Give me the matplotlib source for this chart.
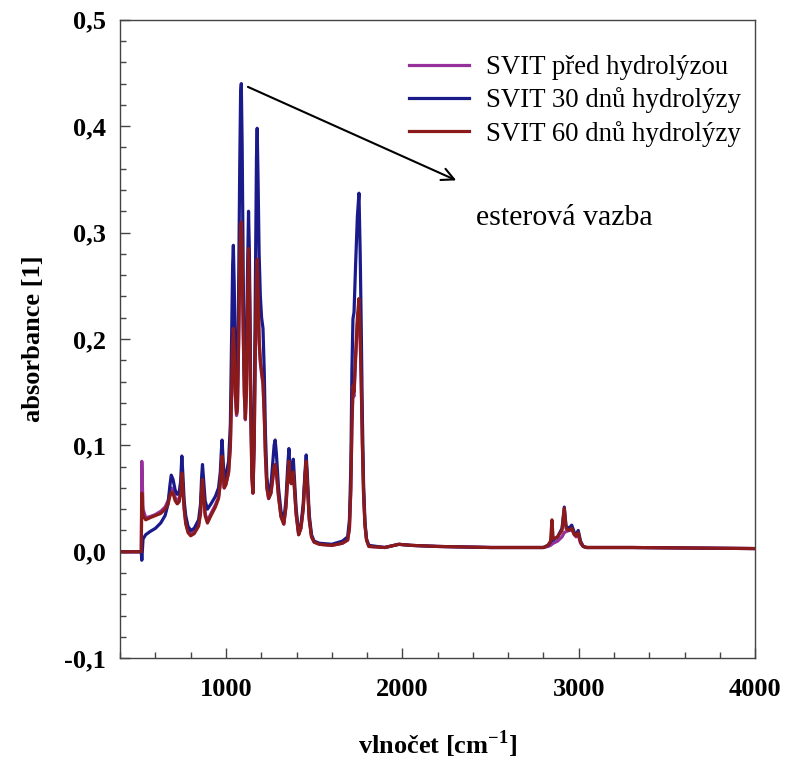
import matplotlib
matplotlib.use("Agg")
import matplotlib.pyplot as plt
from matplotlib.ticker import MultipleLocator, FuncFormatter

plt.rcParams['font.family'] = ['Liberation Serif', 'DejaVu Serif']
plt.rcParams['mathtext.fontset'] = 'custom'
plt.rcParams['mathtext.rm'] = 'Liberation Serif:bold'
plt.rcParams['mathtext.bf'] = 'Liberation Serif:bold'

# wavenumber [cm-1] and absorbance
wn = [400, 520, 523, 530, 545, 570, 600, 630, 655, 672,
      682, 690, 700, 712, 724, 735, 743, 750, 756, 763,
      772, 785, 800, 820, 845, 856, 862, 867, 873, 882,
      895, 915, 940, 958, 968, 974, 978, 983, 990, 1000,
      1015, 1025, 1032, 1038, 1042, 1047, 1053, 1060, 1065, 1072,
      1078, 1083, 1087, 1092, 1098, 1104, 1110, 1116, 1122, 1128,
      1133, 1140, 1147, 1153, 1160, 1167, 1173, 1177, 1182, 1188,
      1195, 1202, 1210, 1217, 1224, 1232, 1242, 1255, 1266, 1273,
      1279, 1286, 1298, 1312, 1328, 1340, 1350, 1357, 1363, 1370,
      1376, 1382, 1388, 1398, 1412, 1425, 1438, 1448, 1455, 1462,
      1472, 1485, 1500, 1530, 1600, 1660, 1690, 1700, 1708, 1714,
      1720, 1726, 1735, 1745, 1754, 1761, 1767, 1773, 1780, 1788,
      1797, 1810, 1900, 1980, 2050, 2200, 2500, 2800, 2825, 2840,
      2848, 2855, 2880, 2905, 2918, 2928, 2945, 2960, 2975, 2985,
      2997, 3010, 3025, 3045, 3300, 4000]

svit_0 = [0, 0, 0.085, 0.040, 0.032, 0.033, 0.035, 0.038, 0.042, 0.048,
          0.056, 0.060, 0.058, 0.051, 0.048, 0.050, 0.058, 0.074, 0.060, 0.042,
          0.028, 0.020, 0.017, 0.019, 0.026, 0.037, 0.058, 0.066, 0.055, 0.036,
          0.029, 0.036, 0.044, 0.051, 0.064, 0.080, 0.088, 0.077, 0.060, 0.064,
          0.074, 0.098, 0.145, 0.188, 0.203, 0.185, 0.147, 0.128, 0.133, 0.195,
          0.262, 0.298, 0.303, 0.275, 0.205, 0.148, 0.124, 0.148, 0.225, 0.278,
          0.245, 0.138, 0.069, 0.055, 0.098, 0.195, 0.253, 0.268, 0.244, 0.196,
          0.177, 0.167, 0.157, 0.128, 0.089, 0.060, 0.050, 0.055, 0.069, 0.079,
          0.081, 0.074, 0.052, 0.033, 0.026, 0.042, 0.069, 0.084, 0.068, 0.064,
          0.069, 0.074, 0.060, 0.035, 0.016, 0.022, 0.040, 0.069, 0.084, 0.062,
          0.031, 0.014, 0.009, 0.007, 0.006, 0.008, 0.011, 0.022, 0.058, 0.116,
          0.150, 0.146, 0.180, 0.214, 0.230, 0.200, 0.156, 0.102, 0.054, 0.025,
          0.011, 0.005, 0.004, 0.007, 0.006, 0.005, 0.004, 0.004, 0.005, 0.006,
          0.007, 0.008, 0.010, 0.014, 0.018, 0.019, 0.020, 0.021, 0.016, 0.014,
          0.016, 0.008, 0.005, 0.004, 0.004, 0.003]

svit_30 = [0, 0, -0.008, 0.012, 0.016, 0.019, 0.022, 0.027, 0.034, 0.045,
           0.062, 0.072, 0.068, 0.058, 0.054, 0.056, 0.066, 0.090, 0.072, 0.048,
           0.034, 0.024, 0.020, 0.022, 0.030, 0.045, 0.070, 0.082, 0.068, 0.048,
           0.040, 0.045, 0.052, 0.060, 0.075, 0.095, 0.105, 0.090, 0.068, 0.072,
           0.085, 0.12, 0.20, 0.27, 0.288, 0.25, 0.18, 0.15, 0.155, 0.25,
           0.36, 0.43, 0.44, 0.38, 0.26, 0.17, 0.14, 0.17, 0.26, 0.32,
           0.28, 0.16, 0.08, 0.06, 0.12, 0.26, 0.37, 0.398, 0.35, 0.28,
           0.24, 0.22, 0.21, 0.17, 0.11, 0.07, 0.055, 0.062, 0.085, 0.100,
           0.105, 0.092, 0.060, 0.038, 0.030, 0.048, 0.080, 0.097, 0.078, 0.072,
           0.080, 0.087, 0.070, 0.040, 0.018, 0.025, 0.045, 0.075, 0.091, 0.070,
           0.035, 0.016, 0.010, 0.008, 0.007, 0.010, 0.014, 0.030, 0.080, 0.170,
           0.219, 0.225, 0.270, 0.315, 0.337, 0.280, 0.210, 0.130, 0.065, 0.028,
           0.012, 0.006, 0.004, 0.007, 0.006, 0.005, 0.004, 0.004, 0.006, 0.009,
           0.012, 0.011, 0.014, 0.022, 0.042, 0.024, 0.022, 0.025, 0.018, 0.016,
           0.020, 0.010, 0.005, 0.004, 0.004, 0.003]

svit_60 = [0, 0, 0.055, 0.034, 0.030, 0.032, 0.034, 0.036, 0.040, 0.045,
           0.052, 0.056, 0.055, 0.048, 0.045, 0.047, 0.055, 0.074, 0.060, 0.040,
           0.026, 0.018, 0.015, 0.017, 0.024, 0.036, 0.058, 0.068, 0.055, 0.034,
           0.027, 0.034, 0.042, 0.050, 0.065, 0.082, 0.090, 0.078, 0.060, 0.063,
           0.075, 0.10, 0.15, 0.195, 0.21, 0.19, 0.15, 0.13, 0.135, 0.20,
           0.27, 0.305, 0.31, 0.28, 0.21, 0.15, 0.125, 0.15, 0.23, 0.285,
           0.25, 0.14, 0.07, 0.055, 0.10, 0.20, 0.26, 0.275, 0.25, 0.20,
           0.18, 0.17, 0.16, 0.13, 0.09, 0.06, 0.050, 0.055, 0.070, 0.080,
           0.082, 0.075, 0.052, 0.033, 0.026, 0.042, 0.070, 0.085, 0.068, 0.064,
           0.070, 0.075, 0.060, 0.035, 0.016, 0.022, 0.040, 0.070, 0.085, 0.062,
           0.030, 0.014, 0.009, 0.007, 0.006, 0.008, 0.011, 0.022, 0.060, 0.120,
           0.156, 0.150, 0.185, 0.220, 0.238, 0.205, 0.160, 0.105, 0.055, 0.025,
           0.011, 0.005, 0.004, 0.007, 0.006, 0.005, 0.004, 0.004, 0.006, 0.010,
           0.030, 0.012, 0.014, 0.020, 0.041, 0.022, 0.020, 0.022, 0.016, 0.015,
           0.018, 0.009, 0.005, 0.004, 0.004, 0.003]

labels = ['SVIT před hydrolýzou', 'SVIT 30 dnů hydrolýzy', 'SVIT 60 dnů hydrolýzy']
colors = ['#96309a', '#1a1a8a', '#8b1a1a']

fig = plt.figure(figsize=(7.85, 7.6), dpi=100)
ax = fig.add_axes([0.153, 0.134, 0.809, 0.840])

for ys, lab, c in zip([svit_0, svit_30, svit_60], labels, colors):
    ax.plot(wn, ys, color=c, lw=2.3, label=lab)

ax.set_xlim(400, 4000)
ax.set_ylim(-0.1, 0.5)
ax.xaxis.set_major_locator(MultipleLocator(1000))
ax.xaxis.set_minor_locator(MultipleLocator(200))
ax.yaxis.set_major_locator(MultipleLocator(0.1))
ax.yaxis.set_minor_locator(MultipleLocator(0.02))
ax.yaxis.set_major_formatter(FuncFormatter(lambda v, p: f'{v:.1f}'.replace('.', ',')))
ax.tick_params(which='both', direction='in', top=False, right=False, width=1, color='#444444')
ax.tick_params(which='major', length=7, labelsize=19)
ax.tick_params(axis='x', which='major', pad=14)
ax.tick_params(axis='y', which='major', pad=10)
ax.tick_params(which='minor', length=4)
for lbl in ax.get_xticklabels() + ax.get_yticklabels():
    lbl.set_fontweight('bold')
for sp in ax.spines.values():
    sp.set_color('#444444')
    sp.set_linewidth(1)

ax.set_xlabel(r'vlnočet [cm$^{-1}$]', fontsize=19, fontweight='bold', labelpad=20)
ax.set_ylabel('absorbance [1]', fontsize=19, fontweight='bold', labelpad=14)

ax.legend(loc='upper right', bbox_to_anchor=(1.0, 0.968), frameon=False, fontsize=19.3,
          handlelength=2.25, handletextpad=0.6, labelspacing=0.28, borderaxespad=0.15)

ax.annotate('', xy=(2320, 0.348), xytext=(1110, 0.438),
            arrowprops=dict(arrowstyle='->', color='black', lw=1.5, mutation_scale=22))
ax.text(2415, 0.314, 'esterová vazba', fontsize=21.5, va='center', ha='left')

fig.savefig('out.png', dpi=100)
